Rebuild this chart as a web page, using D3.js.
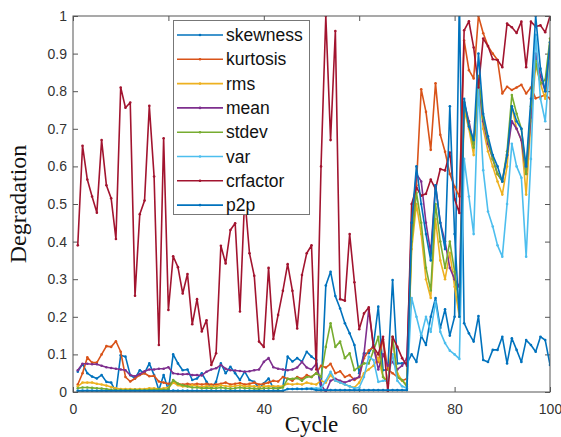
<!DOCTYPE html>
<html><head><meta charset="utf-8">
<script src="https://cdn.jsdelivr.net/npm/d3@7"></script>
<style>body{margin:0;background:#fff} svg{display:block}</style>
</head><body><svg id="c" width="561" height="437"></svg>
<script>
const cycles = d3.range(1, 101);
const seriesNames = ["skewness","kurtosis","rms","mean","stdev","var","crfactor","p2p"];
const seriesColors = ["#0072BD","#D95319","#EDB120","#7E2F8E","#77AC30","#4DBEEE","#A2142F","#0072BD"];

const skewness = [
0.054,0.074,0.05,0.041,0.036,0.045,0.027,0.025,0.0,0.098,
0.094,0.045,0.036,0.058,0.05,0.076,0.045,0.005,0.045,0.005,
0.1,0.076,0.058,0.06,0.032,0.036,0.05,0.027,0.01,0.027,
0.076,0.05,0.067,0.05,0.032,0.054,0.032,0.027,0.01,0.023,
0.036,0.01,0.01,0.014,0.094,0.081,0.09,0.081,0.107,0.094,
0.085,0.005,0.283,0.32,0.255,0.222,0.183,0.156,0.125,0.05,
0.103,0.103,0.125,0.227,0.058,0.06,0.298,0.076,0.076,0.076,
0.1,0.08,0.15,0.125,0.2,0.25,0.17,0.22,0.15,0.2,
1.05,0.183,0.156,0.134,0.202,0.085,0.08,0.112,0.112,0.147,
0.076,0.143,0.112,0.08,0.138,0.125,0.107,0.147,0.138,0.072];

const kurtosis = [
0.02,0.05,0.092,0.078,0.078,0.1,0.122,0.12,0.135,0.107,
0.04,0.028,0.036,0.045,0.05,0.042,0.043,0.028,0.025,0.022,
0.025,0.022,0.02,0.022,0.02,0.022,0.02,0.022,0.02,0.02,
0.022,0.025,0.02,0.022,0.024,0.02,0.022,0.025,0.02,0.022,
0.025,0.03,0.028,0.04,0.035,0.03,0.04,0.035,0.045,0.04,
0.05,0.07,0.065,0.075,0.05,0.055,0.04,0.045,0.032,0.04,
0.09,0.11,0.12,0.08,0.14,0.06,0.05,0.04,0.03,0.035,
0.42,0.55,0.805,0.745,0.644,0.821,0.684,0.639,0.58,0.546,
0.52,0.935,0.856,0.834,1.0,0.954,0.92,0.9,0.883,0.794,
0.812,0.803,0.81,0.817,0.794,0.81,0.781,0.785,0.79,0.78];

const rms = [
0.015,0.025,0.025,0.025,0.022,0.02,0.017,0.013,0.01,0.008,
0.008,0.008,0.007,0.008,0.008,0.01,0.01,0.008,0.01,0.012,
0.025,0.018,0.015,0.015,0.018,0.016,0.014,0.016,0.015,0.015,
0.018,0.016,0.015,0.016,0.018,0.015,0.016,0.015,0.014,0.015,
0.016,0.015,0.015,0.016,0.022,0.02,0.022,0.02,0.025,0.022,
0.02,0.03,0.025,0.045,0.03,0.025,0.02,0.015,0.012,0.025,
0.05,0.06,0.07,0.09,0.04,0.03,0.14,0.05,0.03,0.02,
0.38,0.5,0.42,0.3,0.25,0.46,0.35,0.3,0.37,0.28,
0.2,0.75,0.7,0.63,0.82,0.7,0.64,0.6,0.56,0.525,
0.6,0.76,0.7,0.67,0.525,0.72,0.87,0.82,0.78,0.9];

const mean = [
0.058,0.075,0.075,0.074,0.074,0.07,0.066,0.064,0.062,0.06,
0.058,0.045,0.042,0.048,0.055,0.06,0.06,0.062,0.062,0.066,
0.05,0.048,0.047,0.048,0.045,0.045,0.044,0.054,0.06,0.063,
0.072,0.062,0.058,0.057,0.056,0.054,0.055,0.058,0.06,0.08,
0.09,0.066,0.062,0.06,0.058,0.06,0.065,0.08,0.065,0.06,
0.075,0.02,0.0,0.03,0.035,0.03,0.025,0.03,0.035,0.04,
0.1,0.22,0.12,0.06,0.1,0.07,0.08,0.06,0.07,0.09,
0.45,0.58,0.56,0.45,0.37,0.55,0.45,0.4,0.33,0.3,
0.28,0.77,0.72,0.66,0.82,0.72,0.66,0.62,0.58,0.56,
0.63,0.72,0.7,0.67,0.58,0.73,0.9,0.84,0.8,0.92];

const stdev = [
0.01,0.012,0.012,0.011,0.01,0.009,0.008,0.006,0.005,0.005,
0.005,0.005,0.006,0.005,0.005,0.006,0.006,0.007,0.006,0.008,
0.032,0.022,0.018,0.015,0.012,0.012,0.01,0.011,0.01,0.01,
0.012,0.01,0.009,0.01,0.012,0.01,0.01,0.009,0.008,0.01,
0.01,0.01,0.009,0.012,0.035,0.035,0.037,0.03,0.04,0.04,
0.05,0.04,0.12,0.183,0.12,0.134,0.09,0.103,0.058,0.067,
0.076,0.076,0.11,0.147,0.04,0.023,0.147,0.04,0.032,0.014,
0.4,0.53,0.45,0.33,0.27,0.5,0.4,0.33,0.4,0.32,
0.22,0.77,0.71,0.65,0.84,0.73,0.67,0.62,0.58,0.56,
0.64,0.79,0.74,0.7,0.58,0.76,0.88,0.82,0.83,0.94];

const variance = [
0.003,0.004,0.004,0.004,0.003,0.003,0.003,0.002,0.002,0.002,
0.002,0.002,0.002,0.002,0.002,0.002,0.002,0.002,0.002,0.002,
0.004,0.003,0.003,0.003,0.003,0.003,0.002,0.003,0.002,0.002,
0.003,0.003,0.002,0.003,0.003,0.002,0.003,0.002,0.002,0.002,
0.003,0.002,0.002,0.003,0.008,0.008,0.009,0.008,0.01,0.01,
0.01,0.01,0.03,0.054,0.03,0.025,0.02,0.015,0.01,0.012,
0.04,0.094,0.085,0.027,0.03,0.03,0.1,0.03,0.015,0.01,
0.25,0.2,0.15,0.2,0.16,0.24,0.16,0.13,0.11,0.1,
0.088,0.62,0.52,0.42,0.81,0.59,0.48,0.44,0.39,0.36,
0.5,0.66,0.6,0.57,0.36,0.62,0.95,0.78,0.72,0.88];

const crfactor = [
0.39,0.655,0.565,0.52,0.477,0.67,0.55,0.515,0.407,0.81,
0.756,0.77,0.256,0.473,0.509,0.761,0.573,0.125,0.675,0.218,
0.361,0.332,0.262,0.314,0.18,0.247,0.161,0.191,0.072,0.103,
0.389,0.342,0.431,0.449,0.214,0.52,0.369,0.309,0.134,0.12,
0.33,0.141,0.205,0.269,0.34,0.269,0.169,0.311,0.369,0.39,
0.06,0.6,1.0,0.67,0.96,0.247,0.243,0.42,0.292,0.167,
0.209,0.225,0.12,0.1,0.147,0.0,0.147,0.12,0.09,0.07,
0.5,0.544,0.522,0.527,0.565,0.54,0.593,0.589,0.637,0.513,
0.476,0.962,0.986,0.916,0.81,0.94,0.92,0.885,0.883,0.864,
0.98,0.97,0.955,0.985,0.864,0.985,0.972,0.975,0.957,1.0];

const p2p = [
0.003,0.003,0.003,0.003,0.003,0.003,0.003,0.003,0.003,0.003,
0.003,0.003,0.003,0.003,0.003,0.003,0.003,0.003,0.003,0.003,
0.003,0.003,0.003,0.003,0.003,0.003,0.003,0.003,0.003,0.003,
0.003,0.003,0.003,0.003,0.003,0.003,0.003,0.003,0.003,0.003,
0.003,0.003,0.003,0.003,0.008,0.008,0.008,0.008,0.008,0.008,
0.005,0.005,0.005,0.005,0.005,0.005,0.005,0.005,0.005,0.005,
0.005,0.005,0.005,0.005,0.005,0.005,0.005,0.005,0.005,0.005,
0.45,0.6,0.5,0.42,0.35,0.55,0.45,0.38,0.76,0.42,
0.2,0.78,0.706,0.67,0.9,0.74,0.68,0.63,0.6,0.56,
0.63,0.76,0.72,0.7,0.6,0.78,1.0,0.86,0.8,0.93];

const seriesValues = [skewness,kurtosis,rms,mean,stdev,variance,crfactor,p2p];
const xTicks = [0,20,40,60,80,100];
const yTicks = [0,0.1,0.2,0.3,0.4,0.5,0.6,0.7,0.8,0.9,1];
const yTickLabels = ["0","0.1","0.2","0.3","0.4","0.5","0.6","0.7","0.8","0.9","1"];
const xLabel = "Cycle", yLabel = "Degradation";

const L = 73, R = 550, T = 16, B = 392;
const svg = d3.select("#c");
const x = d3.scaleLinear().domain([0,100]).range([L,R]);
const y = d3.scaleLinear().domain([0,1]).range([B,T]);

svg.append("defs").append("clipPath").attr("id","clip")
  .append("rect").attr("x",L).attr("y",T).attr("width",R-L).attr("height",B-T);

const axisColor = "#555";
function styleAxis(g){
  g.select(".domain").remove();
  g.selectAll(".tick line").attr("stroke",axisColor).attr("stroke-width",1);
  g.selectAll(".tick text").attr("fill","#333").style("font-family","Arial, 'Liberation Sans', sans-serif").style("font-size","14px");
}
svg.append("g").attr("transform",`translate(0,${B})`)
  .call(d3.axisBottom(x).tickValues(xTicks).tickSize(-5).tickPadding(12).tickFormat(d3.format("d")))
  .call(styleAxis);
svg.append("g").attr("transform",`translate(0,${T})`)
  .call(d3.axisTop(x).tickValues(xTicks).tickSize(-5).tickFormat(""))
  .call(styleAxis);
svg.append("g").attr("transform",`translate(${L},0)`)
  .call(d3.axisLeft(y).tickValues(yTicks).tickSize(-5).tickPadding(6).tickFormat((d,i)=>yTickLabels[i]))
  .call(styleAxis);
svg.append("g").attr("transform",`translate(${R},0)`)
  .call(d3.axisRight(y).tickValues(yTicks).tickSize(-5).tickFormat(""))
  .call(styleAxis);

const plot = svg.append("g").attr("clip-path","url(#clip)");
const line = d3.line().x((d,i)=>x(cycles[i])).y(d=>y(d));
seriesValues.forEach((vals,k)=>{
  const g = plot.append("g");
  g.append("path").attr("d",line(vals)).attr("fill","none")
    .attr("stroke",seriesColors[k]).attr("stroke-width",1.6).attr("stroke-linejoin","round");
  g.selectAll("circle").data(vals).join("circle")
    .attr("cx",(d,i)=>x(cycles[i])).attr("cy",d=>y(d)).attr("r",1.3).attr("fill",seriesColors[k]);
});

svg.append("rect").attr("x",L).attr("y",T).attr("width",R-L).attr("height",B-T)
  .attr("fill","none").attr("stroke",axisColor).attr("stroke-width",1);

// legend
const lg = svg.append("g");
lg.append("rect").attr("x",173.5).attr("y",20.5).attr("width",136).attr("height",194)
  .attr("fill","#fff").attr("stroke","#777").attr("stroke-width",1);
seriesNames.forEach((n,k)=>{
  const yy = 35 + k*24.3;
  lg.append("line").attr("x1",177).attr("x2",223).attr("y1",yy).attr("y2",yy)
    .attr("stroke",seriesColors[k]).attr("stroke-width",1.6);
  lg.append("circle").attr("cx",200).attr("cy",yy).attr("r",1.3).attr("fill",seriesColors[k]);
  lg.append("text").attr("x",226).attr("y",yy).attr("dy","0.35em").text(n)
    .style("font-family","Arial, 'Liberation Sans', sans-serif").style("font-size","17.5px").attr("fill","#111");
});

svg.append("text").attr("x",(L+R)/2).attr("y",432).attr("text-anchor","middle").text(xLabel)
  .style("font-family","'Liberation Serif','Times New Roman',serif").style("font-size","23px").attr("fill","#111");
svg.append("text").attr("transform",`translate(26,${(T+B)/2}) rotate(-90)`).attr("text-anchor","middle").text(yLabel)
  .style("font-family","'Liberation Serif','Times New Roman',serif").style("font-size","24px").attr("fill","#111");
</script></body></html>
